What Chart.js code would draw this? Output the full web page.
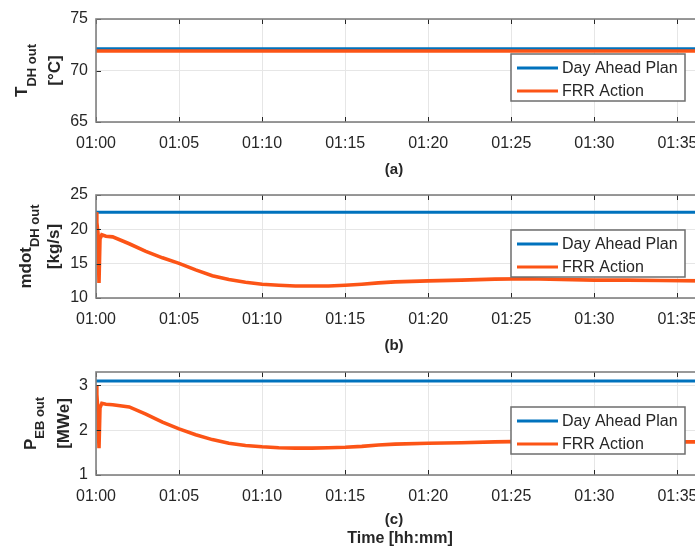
<!DOCTYPE html>
<html>
<head>
<meta charset="utf-8">
<script src="https://cdn.jsdelivr.net/npm/chart.js@4.4.1/dist/chart.umd.min.js"></script>
<style>
  html, body { margin: 0; padding: 0; background: #fff; width: 695px; height: 554px; overflow: hidden; }
  .panel { position: absolute; left: 0; }
</style>
</head>
<body>
<canvas id="chartA" class="panel" width="720" height="177" style="top:0"></canvas>
<canvas id="chartB" class="panel" width="720" height="177" style="top:177px"></canvas>
<canvas id="chartC" class="panel" width="720" height="200" style="top:354px"></canvas>
<script>
// time in minutes after 01:00
const timeMin = [0, 0.05, 0.12, 0.18, 0.24, 0.35, 0.6, 1, 2, 3, 4, 5, 6, 7, 8, 9, 10, 11, 12, 13, 14, 15, 16, 17, 18, 20, 22, 24, 26, 28, 30, 32, 34, 36.6];
const xTicks = [0, 5, 10, 15, 20, 25, 30, 35];

// (a) outlet temperature
const planTemp = 72.1;
const frrTemp = 71.9;
// (b) mass flow
const planFlow = 22.5;
const frrFlow = [22.5, 21.0, 19.4, 12.2, 18.6, 19.2, 19.0, 18.9, 17.9, 16.8, 15.85, 15.05, 14.1, 13.25, 12.7, 12.3, 12.0, 11.85, 11.75, 11.75, 11.75, 11.85, 12.0, 12.2, 12.35, 12.5, 12.6, 12.75, 12.8, 12.7, 12.6, 12.6, 12.55, 12.5];
// (c) electric boiler power
const planPower = 3.1;
const frrPower = [3.0, 2.8, 2.4, 1.6, 2.5, 2.6, 2.58, 2.57, 2.52, 2.36, 2.18, 2.03, 1.9, 1.79, 1.71, 1.66, 1.63, 1.61, 1.6, 1.6, 1.61, 1.62, 1.64, 1.67, 1.69, 1.71, 1.72, 1.74, 1.75, 1.75, 1.74, 1.74, 1.74, 1.74];

const legendNames = ['Day Ahead Plan', 'FRR Action'];
const BLUE = '#0072BD';
const ORANGE = '#FC5416';
const FONT = "'Liberation Sans', Arial, sans-serif";
const X_MAX = 36.6;

function fmtTime(v) {
  const m = Math.round(v);
  return '01:' + String(m).padStart(2, '0');
}

function makePanel(id, opts) {
  const frrVals = Array.isArray(opts.frr) ? opts.frr : timeMin.map(() => opts.frr);
  const planPts = [{ x: 0, y: opts.plan }, { x: X_MAX, y: opts.plan }];
  const frrPts = timeMin.map((t, i) => ({ x: t, y: frrVals[i] }));

  return new Chart(document.getElementById(id), {
    type: 'line',
    data: {
      datasets: [
        { label: legendNames[0], data: planPts, borderColor: BLUE, borderWidth: 3, pointRadius: 0, order: 2 },
        { label: legendNames[1], data: frrPts, borderColor: ORANGE, borderWidth: 3.6, pointRadius: 0, order: 1 }
      ]
    },
    options: {
      responsive: false,
      animation: false,
      layout: { padding: { top: opts.top, right: 16, left: 0, bottom: 0 } },
      plugins: { legend: { display: false }, tooltip: { enabled: false } },
      scales: {
        x: {
          type: 'linear', min: 0, max: X_MAX,
          afterBuildTicks: s => { s.ticks = xTicks.map(v => ({ value: v })); },
          afterFit: s => { s.height = opts.xh; },
          grid: { color: '#e6e6e6', drawTicks: false },
          border: { display: false },
          ticks: { padding: 12, color: '#262626', font: { family: FONT, size: 16 }, callback: v => fmtTime(v), maxRotation: 0, autoSkip: false }
        },
        y: {
          min: opts.ymin, max: opts.ymax,
          afterBuildTicks: s => { s.ticks = opts.yticks.map(v => ({ value: v })); },
          afterFit: s => { s.width = 96; },
          grid: { color: '#e6e6e6', drawTicks: false },
          border: { display: false },
          ticks: { padding: 8, color: '#262626', font: { family: FONT, size: 16 } }
        }
      }
    },
    plugins: [{
      id: 'matlabFrame',
      afterDraw(chart) {
        const c = chart.ctx;
        const a = chart.chartArea;
        c.save();
        // inward ticks
        c.strokeStyle = '#262626';
        c.lineWidth = 1;
        c.beginPath();
        xTicks.forEach(v => {
          const px = Math.round(chart.scales.x.getPixelForValue(v)) + 0.5;
          c.moveTo(px, a.bottom); c.lineTo(px, a.bottom - 5);
          c.moveTo(px, a.top); c.lineTo(px, a.top + 5);
        });
        opts.yticks.forEach(v => {
          const py = Math.round(chart.scales.y.getPixelForValue(v)) + 0.5;
          c.moveTo(a.left, py); c.lineTo(a.left + 5, py);
        });
        c.stroke();
        // axes box
        c.strokeStyle = '#808080';
        c.lineWidth = 1.6;
        c.strokeRect(a.left, a.top, a.right - a.left, a.bottom - a.top);

        // legend (northeast)
        const lw = 174, lh = 47;
        const lx = a.right - 19 - lw, ly = a.top + 35;
        c.fillStyle = '#fff';
        c.fillRect(lx, ly, lw, lh);
        c.strokeStyle = '#6e6e6e';
        c.lineWidth = 1.5;
        c.strokeRect(lx, ly, lw, lh);
        c.font = '16px ' + FONT;
        c.textBaseline = 'middle';
        c.textAlign = 'left';
        [BLUE, ORANGE].forEach((col, i) => {
          const ry = ly + 14 + i * 23;
          c.strokeStyle = col;
          c.lineWidth = 3;
          c.beginPath(); c.moveTo(lx + 6, ry); c.lineTo(lx + 47, ry); c.stroke();
          c.fillStyle = '#262626';
          c.fillText(legendNames[i], lx + 51, ry + 1);
        });

        // panel letter and x label
        const cx = (a.left + a.right) / 2;
        c.fillStyle = '#262626';
        c.textAlign = 'center';
        c.font = 'bold 15px ' + FONT;
        c.fillText(opts.letter, cx - 6, a.bottom + opts.letterDy);
        if (opts.xlabel) {
          c.font = 'bold 16px ' + FONT;
          c.fillText(opts.xlabel, cx, a.bottom + 64);
        }

        // rotated y title with subscript
        const cy = (a.top + a.bottom) / 2;
        c.fillStyle = '#262626';
        c.textBaseline = 'alphabetic';
        c.textAlign = 'left';
        c.font = 'bold 17px ' + FONT;
        const wMain = c.measureText(opts.yMain).width;
        c.font = 'bold 13px ' + FONT;
        const wSub = c.measureText(opts.ySub).width;
        c.save();
        c.translate(opts.l1x, cy);
        c.rotate(-Math.PI / 2);
        const start = -(wMain + wSub) / 2;
        c.font = 'bold 17px ' + FONT;
        c.fillText(opts.yMain, start, 0);
        c.font = 'bold 13px ' + FONT;
        c.fillText(opts.ySub, start + wMain, opts.subDy);
        c.restore();
        c.save();
        c.translate(opts.l2x, cy);
        c.rotate(-Math.PI / 2);
        c.font = 'bold 17px ' + FONT;
        c.textAlign = 'center';
        c.fillText(opts.yUnit, 0, 0);
        c.restore();
        c.restore();
      }
    }]
  });
}

makePanel('chartA', {
  plan: planTemp, frr: frrTemp, ymin: 65, ymax: 75, yticks: [65, 70, 75],
  top: 19, xh: 55, letter: '(a)', letterDy: 48,
  yMain: 'T', ySub: 'DH out', yUnit: '[°C]', l1x: 27, l2x: 60, subDy: 9
});
makePanel('chartB', {
  plan: planFlow, frr: frrFlow, ymin: 10, ymax: 25, yticks: [10, 15, 20, 25],
  top: 18, xh: 56, letter: '(b)', letterDy: 48,
  yMain: 'mdot', ySub: 'DH out', yUnit: '[kg/s]', l1x: 31, l2x: 59, subDy: 8
});
makePanel('chartC', {
  plan: planPower, frr: frrPower, ymin: 1, ymax: 3.3, yticks: [1, 2, 3],
  top: 18, xh: 79, letter: '(c)', letterDy: 45, xlabel: 'Time [hh:mm]',
  yMain: 'P', ySub: 'EB out', yUnit: '[MWe]', l1x: 36, l2x: 69, subDy: 8
});
</script>
</body>
</html>
